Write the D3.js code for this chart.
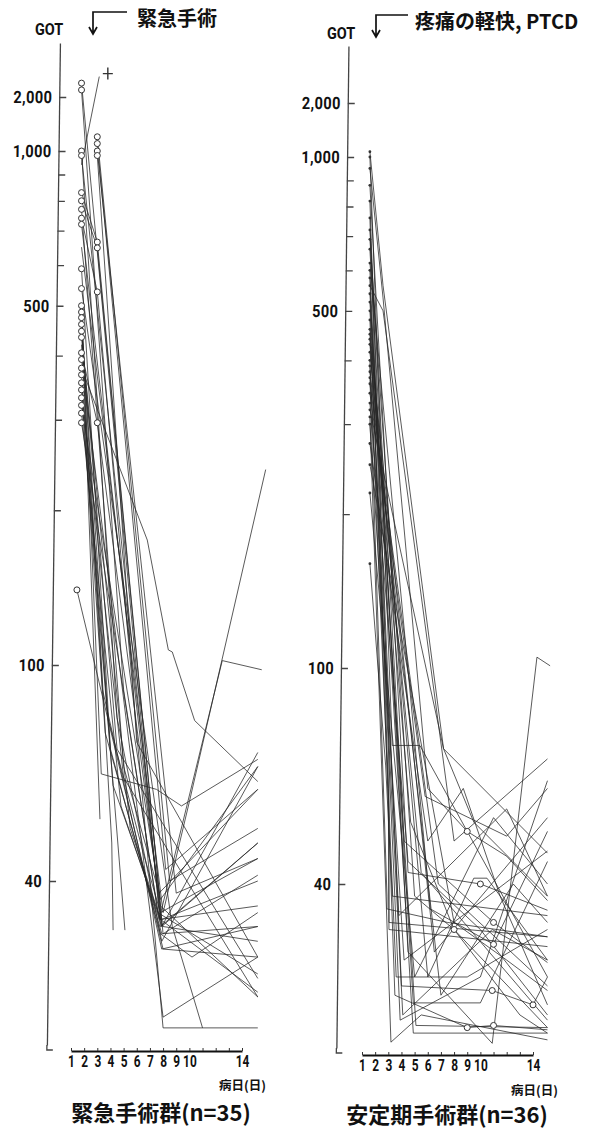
<!DOCTYPE html>
<html><head><meta charset="utf-8">
<script src="https://cdn.jsdelivr.net/npm/d3@7"></script>
<style>
body{margin:0;background:#fff}
svg{display:block}
.num{font-family:Roboto,"DejaVu Sans",sans-serif;font-weight:bold;fill:#111}
.jp{font-family:"Noto Sans CJK JP",sans-serif;font-weight:bold;fill:#111}
</style></head><body>
<svg id="c" width="591" height="1129"></svg>
<script>
// ---------- data ----------
const dayTicks = [1,2,3,4,5,6,7,8,9,10,11,12,13,14];
const dayLabels = [1,2,3,4,5,6,7,8,9,10,14];
const gotTicks = [2000,1000,900,800,700,600,500,400,300,200,100,40];
const gotLabels = [2000,1000,500,100,40];
const yAxisTitle = "GOT";
const xAxisTitle = "病日(日)";
const emergencyEvent = "緊急手術";
const stableEvent = "疼痛の軽快, PTCD";
const emergencyTitle = "緊急手術群(n=35)";
const stableTitle = "安定期手術群(n=36)";

// emergency surgery group: [day, GOT, marker]
const emergencySeries = [
  [[1.8,2390,'o'],[7.8,33],[15.2,47]],
  [[1.8,2190,'o'],[5,90],[7.6,35],[15.2,27]],
  [[1.8,1000,'o'],[4.5,80],[7.9,31],[15.2,65]],
  [[1.8,980,'o'],[7.8,34],[15.2,36]],
  [[1.8,830,'o'],[3,665,'o'],[8,32],[15.2,41]],
  [[1.8,800,'o'],[3,648,'o'],[7.8,36],[15.2,24.5]],
  [[1.8,770,'o'],[5,65],[7.7,38],[15.2,59]],
  [[1.8,740,'o'],[3,532,'o'],[8,21.5],[15.2,21.5]],
  [[1.8,720,'o'],[7.9,33],[15.2,69]],
  [[1.8,590,'o'],[4,70],[7.8,32],[10.2,29],[15.2,35]],
  [[1.8,540,'o'],[8.7,33],[11,21.5]],
  [[1.8,500,'o'],[3.3,63],[7.5,59],[9.4,55],[15.2,67]],
  [[1.8,486,'o'],[3.2,52]],
  [[1.8,474,'o'],[4.1,47],[4.2,32.5]],
  [[1.8,460,'o'],[3.8,80],[6.5,45],[7.8,35],[15.2,44]],
  [[1.8,446,'o'],[4.5,70],[15.2,26.5]],
  [[1.8,434,'o'],[5.5,50],[8,33],[15.2,31]],
  [[1.8,405,'o'],[3,296,'o'],[7.9,34],[15.2,40]],
  [[1.8,393,'o'],[8,22.5],[15.2,29]],
  [[1.8,378,'o'],[6.8,175],[8.4,107],[8.7,106],[10.4,79],[15.2,61]],
  [[1.8,367,'o'],[4.2,60],[7.8,34],[15.2,25]],
  [[1.8,354,'o'],[3.6,75],[7.9,32],[15.2,33]],
  [[1.8,343,'o'],[5,62],[15.2,24.5]],
  [[1.8,331,'o'],[5.1,32.5]],
  [[1.8,320,'o'],[7.8,37],[15.2,65]],
  [[1.8,309,'o'],[4.8,55],[7.9,33],[15.2,47]],
  [[1.8,296,'o'],[7.7,34],[12.5,102],[15.5,98]],
  [[3,1200,'o'],[8.5,40],[15.2,50]],
  [[3,1100,'o'],[8.2,42],[15.2,59]],
  [[3,1000,'o'],[9,38],[15.2,44]],
  [[3,980,'o'],[6,72],[15.2,29]],
  [[1.45,140,'o'],[8,30],[15.2,29]],
  [[1.8,940],[3.15,2600]],
  [[1.8,420],[3.4,90],[7.9,30],[15.2,33]],
  [[1.8,650],[8,35],[10,56],[15.8,240]]
];
const emergencyDeaths = [[3.8,2700]];

// stable-phase surgery group
const stableSeries = [
  [[1.6,1070],[2.6,560],[7.2,71],[15.1,45.6]],
  [[1.6,1000],[3.3,72],[5.4,72],[15.1,27]],
  [[1.6,950],[2.6,530],[6,60],[9,50,'o'],[12,45],[15.1,37.3]],
  [[1.6,880],[4.5,42],[10,40,'o'],[15.1,35.8]],
  [[1.6,820],[3.05,72],[3.05,34],[15.1,32]],
  [[1.6,760],[3,60],[3.05,33],[15.1,30.7]],
  [[1.6,720],[4.2,48],[11,34,'o'],[15.1,28.7]],
  [[1.6,690],[5,38],[8,33,'o'],[15.1,21.8]],
  [[1.6,660],[4.5,30],[10.9,20.4],[14.3,105],[15.3,101]],
  [[1.6,620],[6.2,36],[11,31,'o'],[15.1,50]],
  [[1.6,600],[4,26],[10.9,25.5,'o'],[14,24,'o'],[15.1,27]],
  [[1.6,580],[3.5,25],[9,21.8,'o'],[11,22,'o'],[15.1,21.6]],
  [[1.6,560],[2.6,500],[8,48],[15.1,68]],
  [[1.6,540],[4.9,24.2],[10,24.2],[15.1,44]],
  [[1.6,520],[5.1,22],[15.1,21.8]],
  [[1.6,500],[4.9,21.3],[15.1,21.3]],
  [[1.6,480],[3.9,22.5],[10,27],[15.1,62]],
  [[1.6,460],[6,27],[9.5,41],[10.5,41],[15.1,29]],
  [[1.6,450],[3.8,35],[12,55],[15.1,38]],
  [[1.6,440],[6.5,30],[15.1,53]],
  [[1.6,430],[4.7,52],[8,33],[13,23],[15.1,21.3]],
  [[1.6,415],[5.5,42],[15.1,22.5]],
  [[1.6,400],[3.6,27],[9,27],[15.1,33]],
  [[1.6,390],[4.1,23],[10.9,33],[15.1,29]],
  [[1.6,380],[7,25],[12.5,40],[15.1,34]],
  [[1.6,370],[2.9,38],[2.9,36],[7.5,34],[15.1,32]],
  [[1.6,360],[6.8,40],[15.1,26]],
  [[1.6,345],[5.8,58],[12,49],[15.1,60]],
  [[1.6,330],[4.5,44],[10,33],[15.1,23]],
  [[1.6,320],[7.2,71],[9.5,52],[15.1,38]],
  [[1.6,310],[3.2,20.5],[5.5,23],[15.1,20.7]],
  [[1.6,300],[4.2,29],[15.1,46]],
  [[1.6,275],[6,48],[8.7,60],[11.5,38],[15.1,24]],
  [[1.6,250],[8,34],[12,29],[15.1,25.5]],
  [[1.6,220],[5,27],[11,53],[15.1,40]],
  [[1.6,160],[2.8,66],[3.3,38],[15.1,35]]
];

// ---------- drawing ----------
const svg = d3.select("#c");
const fmt = d3.format(",");

function panel(cfg){
  const x = d3.scaleLinear().domain([1,14]).range(cfg.xRange);
  const y = d3.scaleLog().domain([20,40,100,1000,2000,4000]).range(cfg.yRange);
  const g = svg.append("g");

  // y axis (slightly tilted as in the scan)
  const ya = g.append("g")
    .attr("transform",`translate(${cfg.axisX},0) skewX(${cfg.skew})`)
    .call(d3.axisLeft(y).tickValues(gotTicks).tickSizeInner(-7).tickSizeOuter(0).tickPadding(7)
      .tickFormat(v => gotLabels.includes(v) ? fmt(v) : ""));
  ya.select(".domain").attr("stroke","#444").attr("stroke-width",1.3);
  ya.selectAll(".tick line").attr("stroke","#444").attr("stroke-width",1.3);
  ya.selectAll(".tick text").attr("class","num").style("font-size","17px")
    .style("letter-spacing","0.4px").attr("fill","#111")
    .attr("x",-7/0.86).attr("transform","scale(0.86,1)");
  ya.append("path").attr("d",`M0,${cfg.yRange[0]}V${cfg.yRange[0]+5}H6`).attr("fill","none")
    .attr("stroke","#444").attr("stroke-width",1.3);

  // x axis
  const xa = g.append("g").attr("transform",`translate(0,${cfg.xAxisY})`)
    .call(d3.axisBottom(x).tickValues(dayTicks).tickSizeInner(-3).tickSizeOuter(0).tickPadding(4)
      .tickFormat(v => dayLabels.includes(v) ? v : ""));
  xa.select(".domain").attr("stroke","#111").attr("stroke-width",2);
  xa.selectAll(".tick line").attr("stroke","#333");
  xa.selectAll(".tick text").attr("class","num").style("font-size","16.5px").attr("fill","#111")
    .attr("x",0).attr("transform","scale(0.72,1)");

  // series
  const line = d3.line().x(d => x(d[0])).y(d => y(d[1]));
  g.append("g").selectAll("path").data(cfg.series).join("path")
    .attr("d", line).attr("fill","none").attr("stroke","#262626")
    .attr("stroke-width",0.9).attr("stroke-opacity",0.85);

  if (cfg.startDots){
    g.append("g").selectAll("circle").data(cfg.series.map(s => s[0])).join("circle")
      .attr("cx", d => x(d[0])).attr("cy", d => y(d[1])).attr("r",1.4).attr("fill","#333");
  }
  const circles = cfg.series.flat().filter(d => d[2] === 'o');
  g.append("g").selectAll("circle").data(circles).join("circle")
    .attr("cx", d => x(d[0])).attr("cy", d => y(d[1])).attr("r",3)
    .attr("fill","#fff").attr("stroke","#333").attr("stroke-width",1);

  (cfg.deaths||[]).forEach(d => {
    const cx = x(d[0]), cy = y(d[1]);
    g.append("path").attr("d",`M${cx-5},${cy}H${cx+5}M${cx},${cy-6}V${cy+6}`)
      .attr("stroke","#333").attr("stroke-width",1.4);
  });

  // texts
  g.append("text").attr("class","num").attr("transform",`translate(${cfg.gotX},${cfg.gotY}) scale(0.85,1)`)
    .style("font-size","17px").attr("fill",cfg.gotFill).text(yAxisTitle);
  g.append("text").attr("class","jp").attr("x",cfg.xtX).attr("y",cfg.xtY)
    .attr("text-anchor","end").attr("dominant-baseline","central").style("font-size","12.5px").text(xAxisTitle);
  g.append("text").attr("class","jp").attr("x",cfg.titleX).attr("y",cfg.titleY)
    .attr("text-anchor","middle").attr("dominant-baseline","central").style("font-size","22px").text(cfg.title);

  // event arrow & label
  const a = cfg.arrow;
  g.append("path").attr("d",`M${a[2]},${a[1]}H${a[0]}V${a[1]+21}M${a[0]-4},${a[1]+15}L${a[0]},${a[1]+22}L${a[0]+4},${a[1]+15}`)
    .attr("fill","none").attr("stroke","#111").attr("stroke-width",1.7);
  g.append("text").attr("class","jp").attr("x",cfg.eventX).attr("y",cfg.eventY)
    .attr("dominant-baseline","central").style("font-size","20px").text(cfg.event);
}

panel({
  xRange:[71,242], yRange:[1045,881,665,151,97,43], axisX:60.5, skew:-0.745, xAxisY:1051,
  series: emergencySeries, deaths: emergencyDeaths, startDots:false, gotFill:"#111",
  gotX:35, gotY:35, xtX:266, xtY:1084, titleX:161, titleY:1111, title: emergencyTitle,
  arrow:[93,12,127], eventX:137, eventY:17, event: emergencyEvent
});
panel({
  xRange:[362,533], yRange:[1048,884,668,157,103,46], axisX:349, skew:-0.69, xAxisY:1055,
  series: stableSeries, deaths: [], startDots:true, gotFill:"#444",
  gotX:327, gotY:39, xtX:558, xtY:1089, titleX:447, titleY:1113, title: stableTitle,
  arrow:[376,15,408], eventX:415, eventY:20, event: stableEvent
});
</script></body></html>
